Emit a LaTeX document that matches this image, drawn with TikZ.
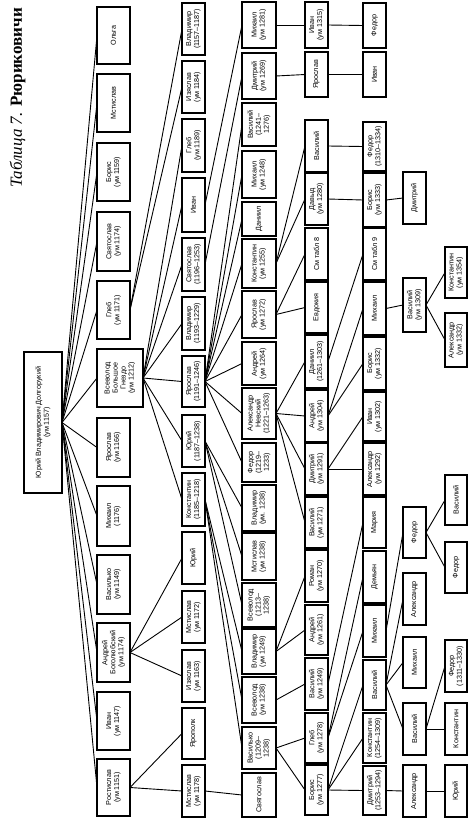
\documentclass[tikz,border=0pt]{standalone}
\usepackage{fontspec}
\setmainfont{Liberation Serif}
\newfontfamily\bxfont{Liberation Sans}
\newcommand\Bx[6]{\node[bx, minimum width={#5-#4}, minimum height={#3-#2}] (#1) at ({(#2+#3)/2},{(#4+#5)/2}) {#6};}
\newcommand\Ed[2]{\foreach \cc in {#2} \draw[ln] (#1.south) -- (\cc.north);}
\begin{document}
\begin{tikzpicture}[x=1pt,y=-1pt,
 bx/.style={draw, line width=1.2pt, rotate=90, inner sep=0pt, outer sep=0pt, align=center, font=\bxfont\fontsize{7.2}{8}\selectfont},
 ln/.style={line width=0.9pt}]
\useasboundingbox[fill=white] (0,0) rectangle (470,819);
\node[rotate=90, inner sep=0pt, font=\fontsize{17}{17}\selectfont] (title) at (17.5,98) {\textit{Таблица 7.} \textbf{Рюриковичи}};
% root
\Bx{r}{24}{62}{352}{493}{Юрий Владимирович Долгорукий\\(ум 1157)}
% gen1
\Bx{a1}{97}{130}{7}{64}{Ольга}
\Bx{a2}{97}{130}{74}{132}{Мстислав}
\Bx{a3}{97}{130}{143}{201}{Борис\\(ум 1159)}
\Bx{a4}{97}{130}{212}{271}{Святослав\\(ум 1174)}
\Bx{a5}{97}{130}{281}{339}{Глеб\\(ум 1171)}
\Bx{a6}{97}{143}{349}{407}{Всеволод\\Большое\\Гнездо\\(ум 1212)}
\Bx{a7}{97}{130}{418}{477}{Ярослав\\(ум 1166)}
\Bx{a8}{97}{130}{486}{546}{Михаил\\(1176)}
\Bx{a9}{97}{130}{555}{614}{Василько\\(ум 1149)}
\Bx{a10}{97}{130}{623}{682}{Андрей\\Боголюбский\\(ум 1174)}
\Bx{a11}{97}{130}{692}{750}{Иван\\(ум 1147)}
\Bx{a12}{97}{130}{759}{816}{Ростислав\\(ум 1151)}
% gen2
\Bx{b1}{182}{205}{3}{55}{Владимир\\(1157–1187)}
\Bx{b2}{182}{205}{61}{113}{Изяслав\\(ум 1184)}
\Bx{b3}{182}{205}{119}{172}{Глеб\\(ум 1189)}
\Bx{b4}{182}{205}{178}{232}{Иван}
\Bx{b5}{182}{205}{238}{291}{Святослав\\(1196–1253)}
\Bx{b6}{182}{205}{297}{350}{Владимир\\(1193–1229)}
\Bx{b7}{182}{205}{356}{407}{Ярослав\\(1191–1246)}
\Bx{b8}{182}{205}{415}{467}{Юрий\\(1187–1238)}
\Bx{b9}{182}{205}{473}{526}{Константин\\(1185–1218)}
\Bx{b10}{182}{205}{532}{584}{Юрий}
\Bx{b11}{182}{205}{591}{643}{Мстислав\\(ум 1172)}
\Bx{b12}{182}{205}{650}{702}{Изяслав\\(ум 1163)}
\Bx{b13}{182}{205}{708}{759}{Ярополк}
\Bx{b14}{182}{205}{765}{817}{Мстислав\\(ум 1178)}
% gen3
\Bx{c1}{242}{276}{2}{48}{Михаил\\(ум 1281)}
\Bx{c2}{242}{276}{53}{99}{Дмитрий\\(ум 1269)}
\Bx{c3}{242}{276}{103}{146}{Василий\\(1241–\\1276)}
\Bx{c4}{242}{276}{151}{198}{Михаил\\(ум 1248)}
\Bx{c5}{242}{276}{202}{236}{Даниил}
\Bx{c6}{242}{276}{239}{288}{Константин\\(ум 1255)}
\Bx{c7}{242}{276}{291}{338}{Ярослав\\(ум 1272)}
\Bx{c8}{242}{276}{342}{385}{Андрей\\(ум 1264)}
\Bx{c9}{242}{276}{388}{439}{Александр\\Невский\\(1221–1263)}
\Bx{c10}{242}{276}{443}{482}{Федор\\(1219–\\1233)}
\Bx{c11}{242}{276}{485}{531}{Владимир\\(ум. 1238)}
\Bx{c12}{242}{276}{533}{580}{Мстислав\\(ум 1238)}
\Bx{c13}{242}{276}{583}{627}{Всеволод\\(1213–\\1238)}
\Bx{c14}{242}{276}{629}{674}{Владимир\\(ум 1249)}
\Bx{c15}{242}{276}{677}{723}{Всеволод\\(ум 1238)}
\Bx{c16}{242}{276}{727}{769}{Василько\\(1209–\\1238)}
\Bx{c17}{242}{276}{773}{817}{Святослав}
% gen4
\Bx{d1}{305}{328}{2}{48}{Иван\\(ум 1315)}
\Bx{d2}{305}{328}{52}{97}{Ярослав}
\Bx{d3}{305}{328}{120}{172}{Василий}
\Bx{d4}{305}{328}{173}{225}{Давыд\\(ум 1280)}
\Bx{d5}{305}{328}{228}{280}{См табл 8}
\Bx{d6}{305}{328}{282}{333}{Евдокия}
\Bx{d7}{305}{328}{335}{388}{Даниил\\(1261–1303)}
\Bx{d8}{305}{328}{390}{442}{Андрей\\(ум 1304)}
\Bx{d9}{305}{328}{443}{495}{Дмитрий\\(ум 1291)}
\Bx{d10}{305}{328}{497}{548}{Василий\\(ум 1271)}
\Bx{d11}{305}{328}{550}{602}{Роман\\(ум 1270)}
\Bx{d12}{305}{328}{605}{655}{Андрей\\(ум 1261)}
\Bx{d13}{305}{328}{658}{710}{Василий\\(ум 1249)}
\Bx{d14}{305}{328}{713}{763}{Глеб\\(ум 1278)}
\Bx{d15}{305}{328}{765}{815}{Борис\\(ум 1277)}
% gen5
\Bx{e1}{363}{386}{3}{48}{Федор}
\Bx{e2}{363}{386}{52}{97}{Иван}
\Bx{e3}{363}{386}{122}{171}{Федор\\(1310–1334)}
\Bx{e4}{363}{386}{173}{227}{Борис\\(ум 1333)}
\Bx{e5}{363}{386}{228}{280}{См табл 9}
\Bx{e6}{363}{386}{282}{335}{Михаил}
\Bx{e7}{363}{386}{337}{390}{Борис\\(ум 1332)}
\Bx{e8}{363}{386}{392}{441}{Иван\\(ум 1302)}
\Bx{e9}{363}{386}{443}{495}{Александр\\(ум 1292)}
\Bx{e10}{363}{386}{497}{548}{Мария}
\Bx{e11}{363}{386}{551}{603}{Демьян}
\Bx{e12}{363}{386}{605}{657}{Михаил}
\Bx{e13}{363}{386}{660}{710}{Василий}
\Bx{e14}{363}{386}{713}{763}{Константин\\(1254–1309)}
\Bx{e15}{363}{386}{766}{815}{Дмитрий\\(1253–1294)}
% gen6
\Bx{f1}{403}{426}{172}{224}{Дмитрий}
\Bx{f2}{403}{426}{278}{332}{Василий\\(ум 1309)}
\Bx{f3}{403}{426}{507}{558}{Федор}
\Bx{f4}{403}{426}{573}{625}{Александр}
\Bx{f5}{403}{426}{637}{688}{Михаил}
\Bx{f6}{403}{426}{703}{755}{Василий}
\Bx{f7}{403}{426}{765}{817}{Александр}
% gen7
\Bx{g1}{445}{467}{247}{298}{Константин\\(ум 1354)}
\Bx{g2}{445}{467}{313}{367}{Александр\\(ум 1332)}
\Bx{g3}{445}{467}{475}{525}{Василий}
\Bx{g4}{445}{467}{542}{593}{Федор}
\Bx{g5}{445}{467}{640}{692}{Федор\\(1311–1330)}
\Bx{g6}{445}{467}{703}{755}{Константин}
\Bx{g7}{445}{467}{765}{817}{Юрий}
% connectors
\Ed{r}{a1,a2,a3,a4,a5,a6,a7,a8,a9,a10,a11,a12}
\Ed{a5}{b1,b2}
\Ed{a6}{b3,b4,b5,b6,b7,b8,b9}
\Ed{a10}{b10,b11,b12}
\Ed{a12}{b13,b14}
\Ed{b4}{c1}
\Ed{b5}{c2}
\Ed{b7}{c3,c4,c5,c6,c7,c8,c9,c10}
\Ed{b8}{c11,c12,c13}
\Ed{b9}{c14,c15,c16}
\Ed{b14}{c17}
\Ed{c1}{d1}
\Ed{c2}{d2}
\Ed{c6}{d3,d4}
\Ed{c7}{d5,d6}
\Ed{c9}{d7,d8,d9,d10}
\Ed{c14}{d11,d12}
\Ed{c15}{d13}
\Ed{c16}{d14,d15}
\Ed{d1}{e1}
\Ed{d2}{e2}
\Ed{d3}{e3}
\Ed{d4}{e4}
\Ed{d7}{e5}
\Ed{d8}{e6,e7}
\Ed{d9}{e8,e9}
\Ed{d13}{e10}
\Ed{d14}{e11,e12}
\Ed{d15}{e13,e14,e15}
\Ed{e4}{f1}
\Ed{e6}{f2}
\Ed{e12}{f3}
\Ed{e13}{f4,f5,f6}
\Ed{e15}{f7}
\Ed{f2}{g1,g2}
\Ed{f3}{g3,g4}
\Ed{f6}{g5,g6}
\Ed{f7}{g7}
\end{tikzpicture}
\end{document}
